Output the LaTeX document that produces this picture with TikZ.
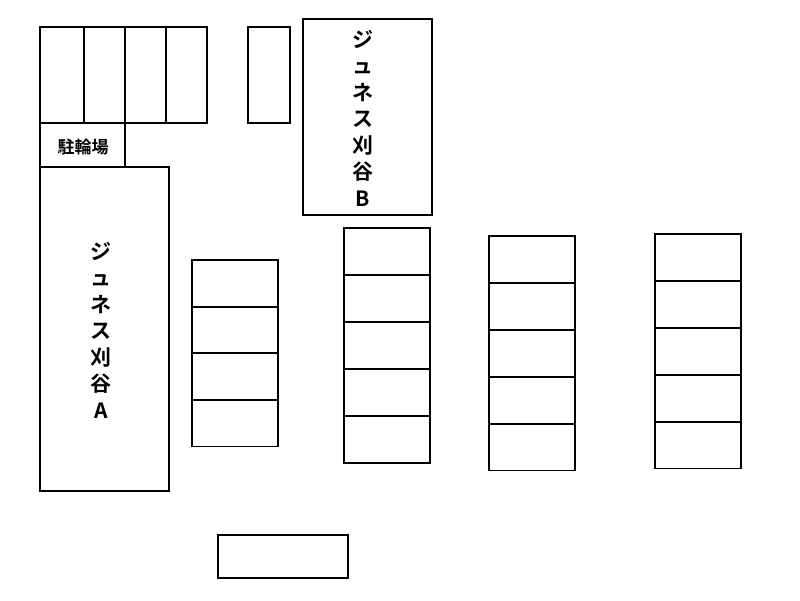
\documentclass[tikz,border=0pt]{standalone}
\usepackage{fontspec}
\newfontfamily\jp{Noto Sans CJK JP}[BoldFont={Noto Sans CJK JP Bold}]
\begin{document}
\begin{tikzpicture}[x=1pt,y=-1pt,line width=1.2pt,
  lbl/.style={font=\jp\bfseries\fontsize{21}{26.5}\selectfont,align=center,inner sep=0pt}]
\useasboundingbox (0,0) rectangle (800,600);
\foreach \a/\b in {40/84,84/125,125/166,166/207} \draw (\a,27) rectangle (\b,123);
\draw (248,27) rectangle (290,123);
\draw (40,123) rectangle (125,167);
\node[lbl,font=\jp\bfseries\fontsize{17}{18}\selectfont] (bike) at (83,147) {駐輪場};
\draw (40,167) rectangle (169,491);
\node[lbl] (ja) at (101,330) {ジ\\ュ\\ネ\\ス\\刈\\谷\\A};
\draw (303,19) rectangle (432,215);
\node[lbl] (jb) at (363,118) {ジ\\ュ\\ネ\\ス\\刈\\谷\\B};
\foreach \y in {260,307,353,400} \draw (192,\y) rectangle (278,\y+46.5);
\foreach \y in {228,275,322,369,416} \draw (344,\y) rectangle (430,\y+47);
\foreach \y in {236,283,330,377,424} \draw (489,\y) rectangle (575,\y+46.5);
\foreach \y in {234,281,328,375,422} \draw (655,\y) rectangle (741,\y+46.5);
\draw (218,535) rectangle (348,578);
\end{tikzpicture}
\end{document}
